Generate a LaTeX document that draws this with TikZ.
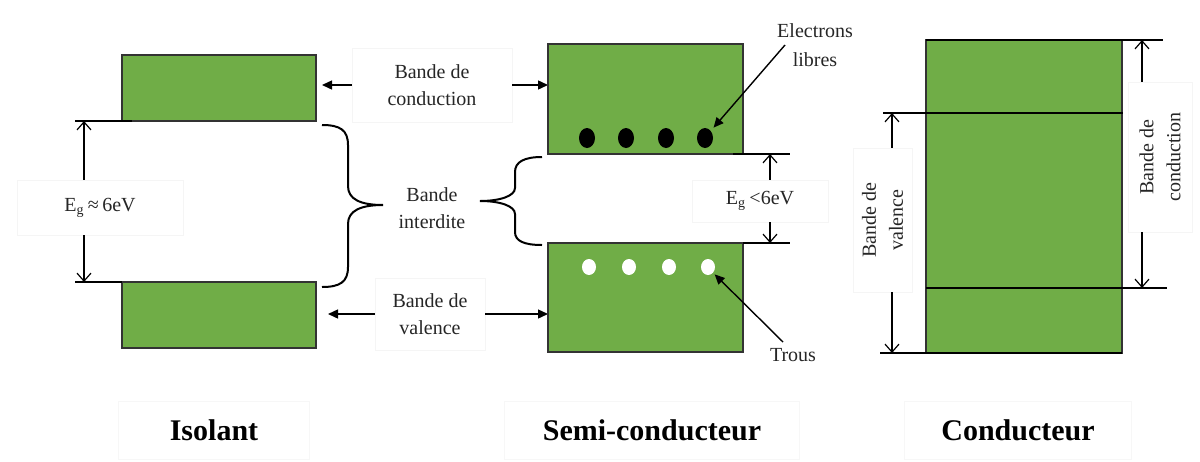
\documentclass[tikz,border=0pt]{standalone}
\usepackage{fontspec}
\setmainfont{Liberation Serif}
\usetikzlibrary{arrows.meta,positioning,shapes.geometric}
\definecolor{bandgreen}{RGB}{112,173,71}

\begin{document}
\begin{tikzpicture}[
    x=0.5pt, y=-0.5pt,
    band/.style={draw=black!80, fill=bandgreen, line width=0.7pt, inner sep=0pt, outer sep=0pt},
    level/.style={line width=1.4pt},
    gap/.style={-{Straight Barb[length=4pt,width=7pt]}, line width=0.6pt},
    pointer/.style={-{Triangle[length=5pt,width=4.5pt]}, line width=0.7pt},
    brace line/.style={line width=1pt},
    lbl/.style={draw=black!4, line width=0.3pt, fill=white, align=center, inner sep=1pt, text=black!85,
      font=\fontsize{10}{13.5}\selectfont},
    title/.style={draw=black!3, line width=0.3pt, minimum height=29pt, font=\fontsize{15}{18}\selectfont\bfseries},
    edot/.style={ellipse, fill=black, minimum width=8pt, minimum height=10pt, inner sep=0pt},
    hole/.style={ellipse, fill=white, minimum width=7pt, minimum height=8pt, inner sep=0pt}
  ]
    \useasboundingbox (0,0) rectangle (1200,461);

    % Isolant
    \node[band, minimum width=97pt, minimum height=33pt] (iUp) at (219,88) {};
    \node[band, minimum width=97pt, minimum height=33pt] (iLo) at (219,315) {};
    \coordinate (iTop) at (84,121);
    \coordinate (iBot) at (84,282);
    \draw[level] (75,121) -- (132,121);
    \draw[level] (75,282) -- (iLo.north west);
    \node[lbl, minimum width=83pt, minimum height=27.5pt] (egI) at (100,207.5) {E\textsubscript{g}\,≈\,6eV};
    \draw[gap] (egI.north -| iTop) -- (iTop);
    \draw[gap] (egI.south -| iBot) -- (iBot);
    \draw[brace line] (322,125) .. controls (340,125) and (348,130) .. (348,145) -- (348,186)
      .. controls (348,199) and (360,205) .. (383,205) .. controls (360,205) and (348,211) .. (348,224)
      -- (348,267) .. controls (348,282) and (340,287) .. (322,287);

    % labels in the middle
    \node[lbl, minimum width=80pt, minimum height=37pt] (cbL) at (432,85) {Bande de\\conduction};
    \node[lbl, draw=none] (biL) at (432,208) {Bande\\interdite};
    \node[lbl, minimum width=55pt, minimum height=36pt] (vbL) at (430,314) {Bande de\\valence};
    \draw[pointer, shorten >=3pt] (cbL.west) -- (cbL.west -| iUp.east);
    \draw[pointer] (cbL.east) -- (cbL.east -| 548,0);
    \draw[pointer, shorten >=6pt] (vbL.west) -- (vbL.west -| iLo.east);
    \draw[pointer] (vbL.east) -- (vbL.east -| 548,0);

    % Semi-conducteur
    \node[band, minimum width=97.5pt, minimum height=55pt] (sUp) at (645.5,99) {};
    \node[band, minimum width=97.5pt, minimum height=54.5pt] (sLo) at (645.5,297.5) {};
    \draw[brace line] (542,157) .. controls (524,157) and (515,162) .. (515,172) -- (515,188)
      .. controls (515,196) and (500,201) .. (480,201) .. controls (500,201) and (515,206) .. (515,214)
      -- (515,232) .. controls (515,241) and (524,245) .. (542,245);
    \foreach \i/\x in {1/587,2/626,3/666,4/705}
      \node[edot] (e\i) at (\x,138) {};
    \foreach \i/\x in {1/589,2/629,3/669,4/708}
      \node[hole] (h\i) at (\x,267) {};
    \coordinate (sTop) at (770,154);
    \coordinate (sBot) at (770,243);
    \draw[level] (733,154) -- (790,154);
    \draw[level] (sLo.north east) -- (790,243);
    \node[lbl, minimum width=68pt, minimum height=21pt] (egS) at (760,201) {E\textsubscript{g}\,<6eV};
    \draw[gap] (egS.north -| sTop) -- (sTop);
    \draw[gap] (egS.south -| sBot) -- (sBot);
    \node[lbl, draw=none, font=\fontsize{10}{14.5}\selectfont] (elL) at (815,45) {Electrons\\libres};
    \node[lbl, draw=none] (trL) at (793,355) {Trous};
    \coordinate (elTail) at (785,45);
    \coordinate (trTail) at (783,342);
    \draw[pointer, shorten >=2pt] (elTail) -- (e4.north east);
    \draw[pointer, shorten >=1pt] (trTail) -- (h4.south east);

    % Conducteur
    \node[band, minimum width=98pt, minimum height=156.5pt] (cBand) at (1024,196.5) {};
    \draw[level] (cBand.north west) -- (1163,40);
    \draw[level] (883,113) -- (1123,113);
    \draw[level] (cBand.west |- 0,288) -- (1167,288);
    \draw[level] (880,353) -- (cBand.south east);
    \node[lbl, rotate=90, minimum width=72pt, minimum height=29.5pt] (vbC) at (882.5,220) {Bande de\\valence};
    \node[lbl, rotate=90, minimum width=75pt, minimum height=32pt] (cbC) at (1160,157) {Bande de\\conduction};
    \coordinate (cvTop) at (892,113);
    \coordinate (cvBot) at (892,353);
    \coordinate (ccTop) at (1142,40);
    \coordinate (ccBot) at (1142,288);
    \draw[gap] (vbC.east -| cvTop) -- (cvTop);
    \draw[gap] (vbC.west -| cvBot) -- (cvBot);
    \draw[gap] (cbC.east -| ccTop) -- (ccTop);
    \draw[gap] (cbC.west -| ccBot) -- (ccBot);

    % titles
    \node[title, minimum width=95.5pt] (tIso) at (214,430) {Isolant};
    \node[title, minimum width=147.5pt] (tSemi) at (652,430) {Semi-conducteur};
    \node[title, minimum width=113.5pt] (tCond) at (1018,430) {Conducteur};
  \end{tikzpicture}
\end{document}
